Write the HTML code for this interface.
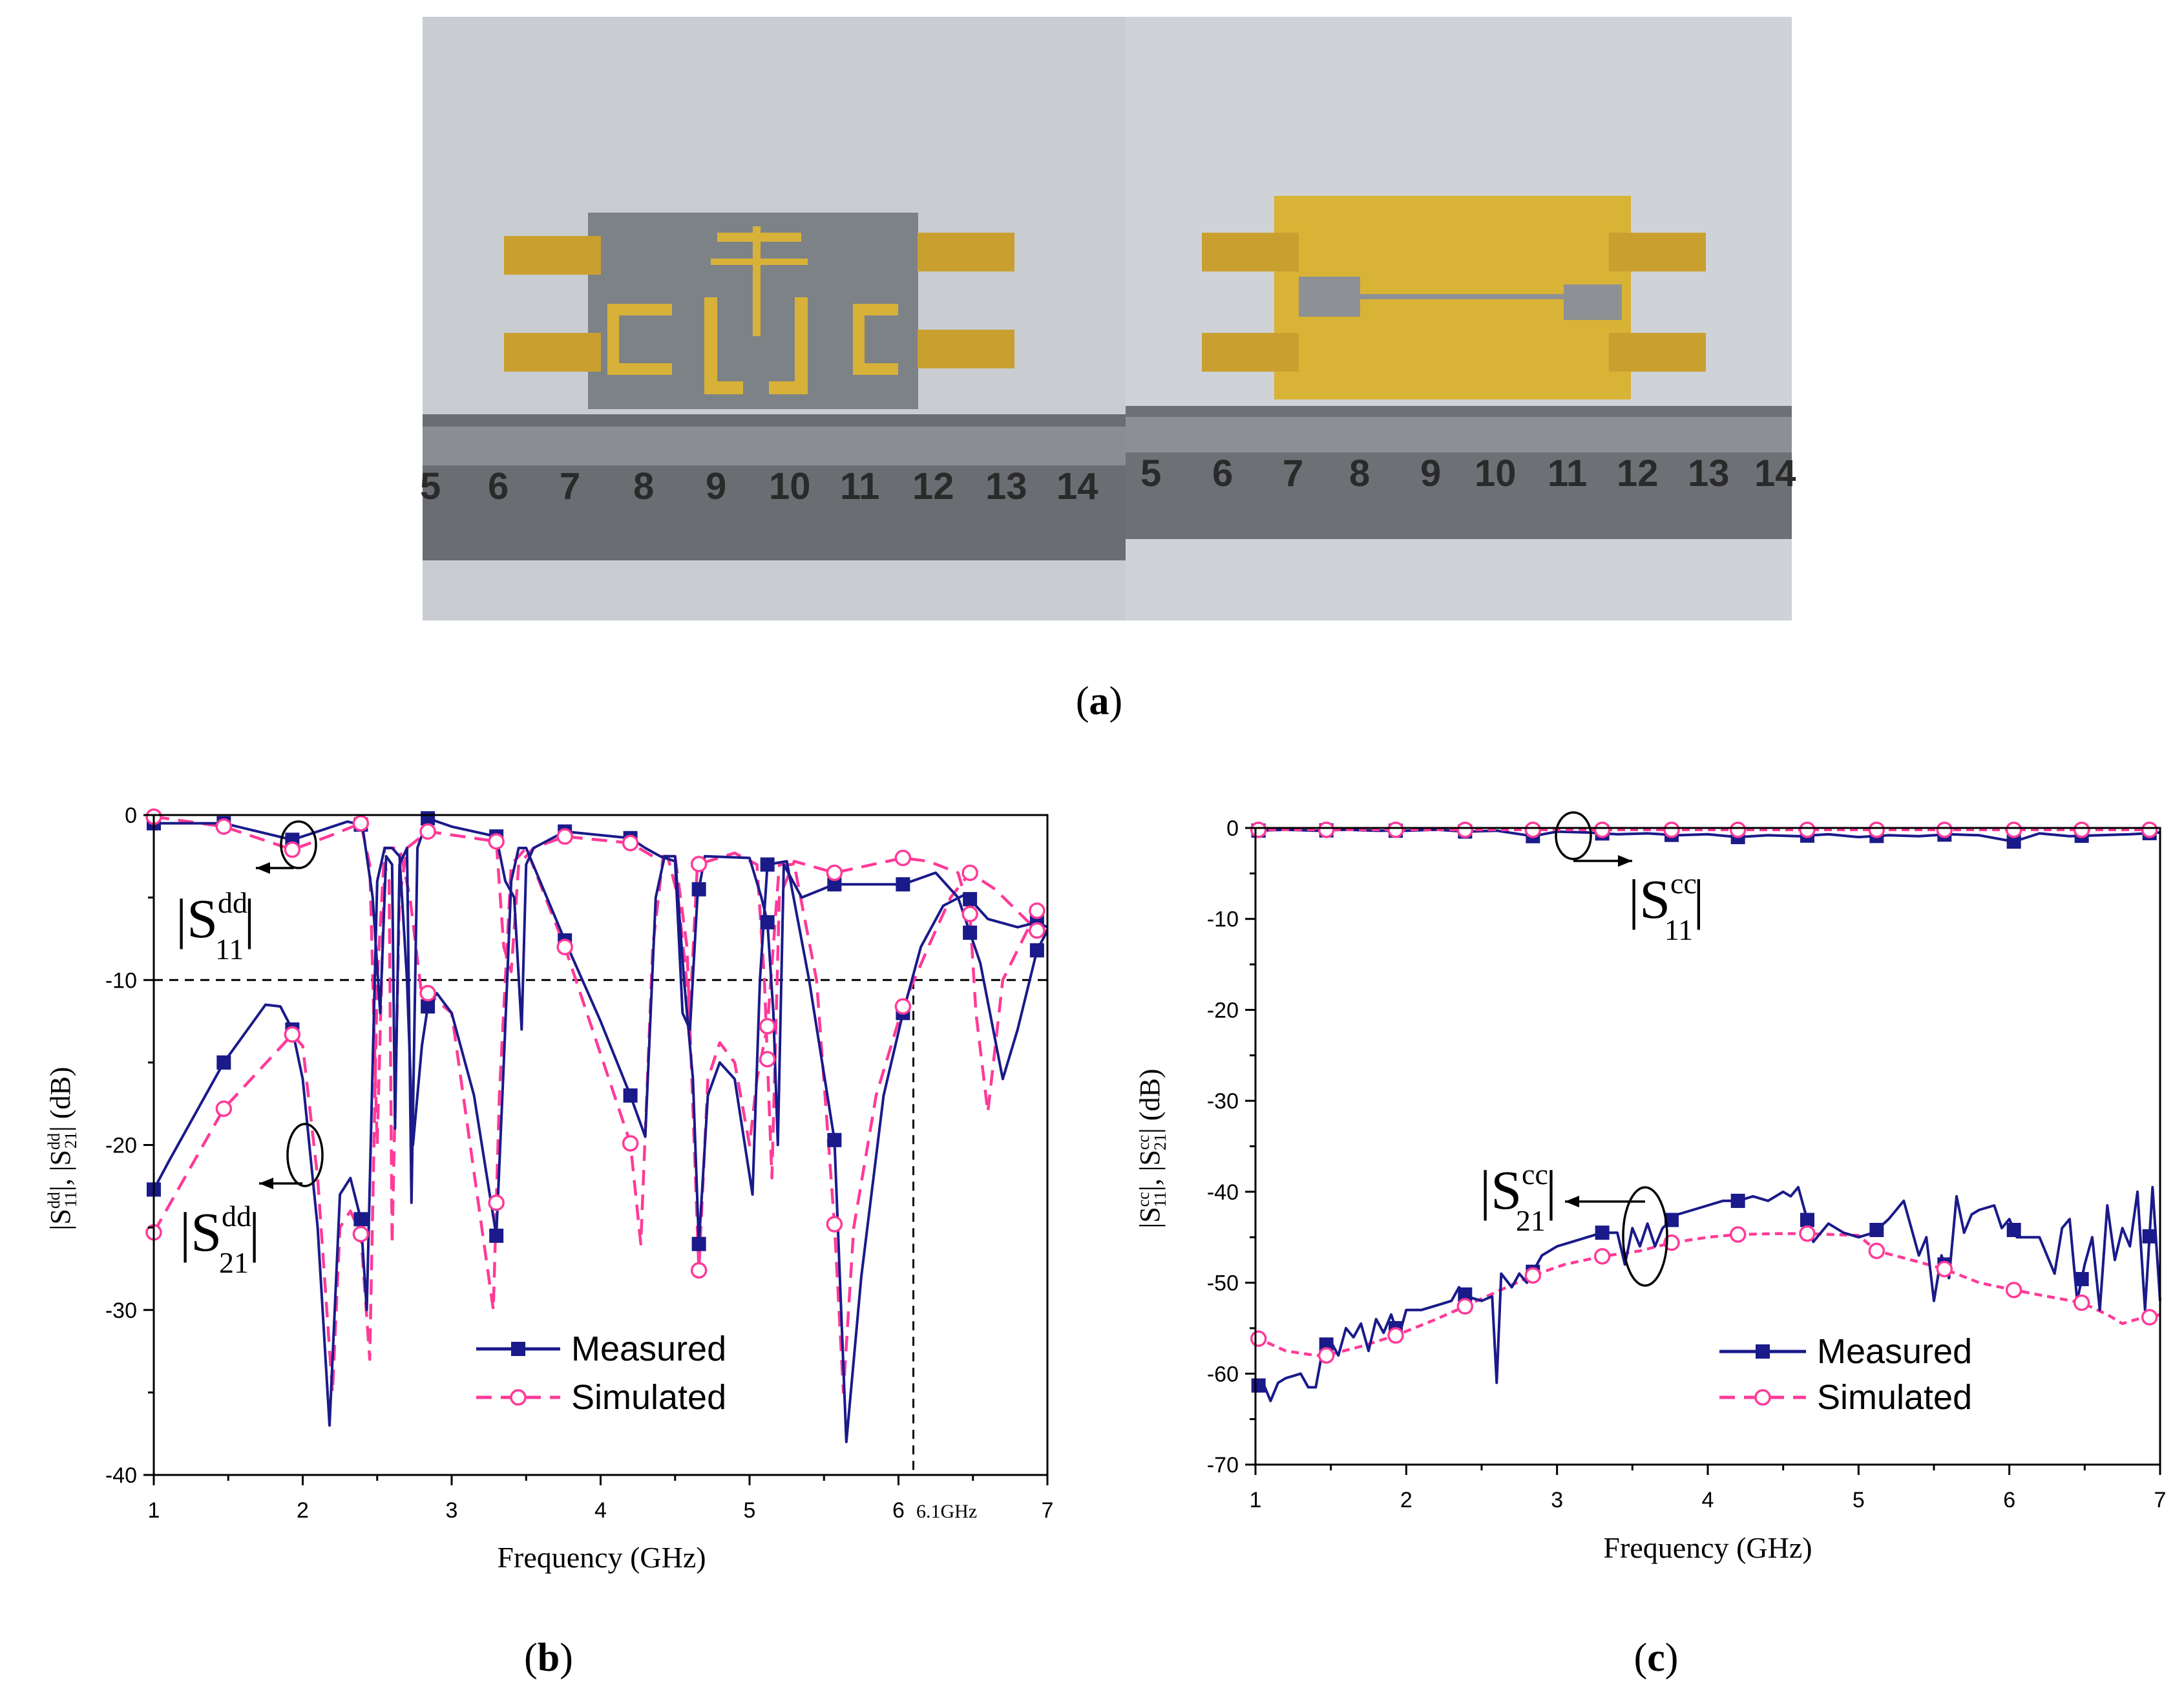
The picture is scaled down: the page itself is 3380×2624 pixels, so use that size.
<!DOCTYPE html>
<html><head><meta charset="utf-8">
<style>
html,body{margin:0;padding:0;background:#fff;}
svg{display:block;}
text{font-family:"Liberation Sans",sans-serif;}
.serif{font-family:"Liberation Serif",serif;}
</style></head>
<body>
<svg id="fig" width="3380" height="2624" viewBox="0 0 3380 2624" xmlns="http://www.w3.org/2000/svg">
<!-- (a) photo -->
<g>
  <rect x="654" y="26" width="1088" height="934" fill="#c9cdd2"/>
  <rect x="1742" y="26" width="1031" height="934" fill="#cfd2d6"/>
  <rect x="654" y="641" width="1088" height="226" fill="#6a6e72"/>
  <rect x="654" y="660" width="1088" height="60" fill="#8a8e92"/>
  <rect x="1742" y="628" width="1031" height="206" fill="#6d7175"/>
  <rect x="1742" y="645" width="1031" height="55" fill="#8c9094"/>
  <g font-family="Liberation Serif" font-size="58" fill="#2a2a2a" font-weight="bold">
    <text x="650" y="772">5</text><text x="755" y="772">6</text><text x="866" y="772">7</text><text x="980" y="772">8</text><text x="1092" y="772">9</text><text x="1190" y="772">10</text><text x="1300" y="772">11</text><text x="1412" y="772">12</text><text x="1525" y="772">13</text><text x="1635" y="772">14</text>
    <text x="1765" y="752">5</text><text x="1876" y="752">6</text><text x="1985" y="752">7</text><text x="2088" y="752">8</text><text x="2198" y="752">9</text><text x="2282" y="752">10</text><text x="2395" y="752">11</text><text x="2502" y="752">12</text><text x="2612" y="752">13</text><text x="2715" y="752">14</text>
  </g>
  <rect x="910" y="329" width="511" height="304" fill="#7d8286"/>
  <g fill="#d8b238">
    <rect x="1090" y="460" width="20" height="150"/><rect x="1090" y="590" width="60" height="20"/>
    <rect x="1230" y="460" width="20" height="150"/><rect x="1190" y="590" width="60" height="20"/>
    <rect x="940" y="470" width="100" height="18"/><rect x="940" y="470" width="18" height="110"/><rect x="940" y="562" width="100" height="18"/>
    <rect x="1320" y="470" width="70" height="18"/><rect x="1320" y="470" width="18" height="110"/><rect x="1320" y="562" width="70" height="18"/>
    <rect x="1110" y="360" width="130" height="14"/><rect x="1165" y="350" width="12" height="170"/>
    <rect x="1100" y="400" width="150" height="10"/>
  </g>
  <rect x="1972" y="303" width="552" height="315" fill="#d9b335"/>
  <rect x="2010" y="428" width="95" height="62" fill="#8d9094"/><rect x="2420" y="440" width="90" height="55" fill="#8d9094"/>
  <rect x="2100" y="455" width="330" height="8" fill="#8d9094"/>
  <g fill="#c9a030">
    <rect x="780" y="365" width="150" height="60"/><rect x="780" y="515" width="150" height="60"/>
    <rect x="1420" y="360" width="150" height="60"/><rect x="1420" y="510" width="150" height="60"/>
    <rect x="1860" y="360" width="150" height="60"/><rect x="1860" y="515" width="150" height="60"/>
    <rect x="2490" y="360" width="150" height="60"/><rect x="2490" y="515" width="150" height="60"/>
  </g>
  <text x="1701" y="1105" class="serif" font-size="62" text-anchor="middle">(<tspan font-weight="bold">a</tspan>)</text>
</g>
<g id="chartB"></g>
<g id="chartC"></g>
</svg>
<script>
// ---------- chart b data ----------
const bS11MeasF=[1,1.47,1.93,2.1,2.3,2.4,2.47,2.52,2.56,2.6,2.62,2.65,2.7,2.73,2.77,2.84,3.0,3.3,3.36,3.42,3.47,3.5,3.55,3.76,4.2,4.3,4.4,4.5,4.55,4.6,4.65,4.7,5.0,5.08,5.12,5.16,5.19,5.23,5.35,5.57,6.03,6.25,6.4,6.55,6.7,6.8,6.93,7];
const bS11MeasV=[-0.5,-0.5,-1.5,-1.0,-0.4,-0.6,-5,-12,-2.5,-3,-19,-3,-2,-23.5,-2,-0.2,-0.7,-1.3,-4,-5,-13,-3,-2,-1.0,-1.4,-2,-2.5,-2.8,-12,-13,-5,-2.5,-2.6,-5,-6.5,-12,-20,-3,-5,-4.2,-4.2,-3.5,-5,-9,-16,-13,-8.2,-7];
const bS21MeasF=[1,1.1,1.47,1.75,1.85,1.93,2.0,2.1,2.18,2.25,2.32,2.39,2.43,2.47,2.5,2.55,2.6,2.65,2.7,2.74,2.8,2.84,2.9,3.0,3.15,3.3,3.35,3.4,3.45,3.5,3.76,4.0,4.2,4.3,4.37,4.43,4.5,4.56,4.62,4.66,4.72,4.8,4.9,5.02,5.07,5.12,5.25,5.4,5.57,5.65,5.75,5.9,6.03,6.15,6.3,6.45,6.6,6.8,6.93,7];
const bS21MeasV=[-22.7,-21,-15,-11.5,-11.6,-13,-16,-25,-37,-23,-22,-24.5,-30,-15,-4,-2,-2,-2.5,-10,-20,-14,-11.6,-10.8,-12,-17,-25.5,-15,-4,-2,-2,-7.6,-12.5,-17,-19.5,-5,-2.5,-2.5,-10,-16,-26,-17,-15,-16,-23,-10,-3,-2.8,-10,-19.7,-38,-28,-17,-12,-8,-5.5,-4.8,-6.3,-6.8,-6.5,-6.8];
const bS11SimF=[1,1.47,1.93,2.2,2.39,2.45,2.5,2.55,2.58,2.6,2.65,2.7,2.84,3.3,3.35,3.4,3.45,3.55,3.76,4.2,4.35,4.45,4.52,4.6,4.65,4.9,5.05,5.1,5.15,5.2,5.3,5.57,6.03,6.2,6.4,6.48,6.52,6.6,6.7,6.93,7];
const bS11SimV=[-0.1,-0.7,-2.1,-1.2,-0.5,-3,-20,-3,-4,-26,-5,-2,-1.0,-1.6,-8,-9.5,-3,-2,-1.3,-1.7,-2.5,-2.5,-5,-12,-3,-2.3,-3,-10,-22,-5,-2.8,-3.5,-2.6,-2.8,-3.5,-6,-12,-18,-10,-5.8,-6];
const bS21SimF=[1,1.47,1.93,2.0,2.1,2.2,2.25,2.32,2.39,2.45,2.5,2.55,2.65,2.72,2.8,2.84,3.0,3.28,3.32,3.4,3.5,3.76,4.2,4.27,4.35,4.42,4.5,4.58,4.66,4.72,4.8,4.9,5.0,5.05,5.12,5.2,5.3,5.45,5.57,5.63,5.7,5.85,6.03,6.2,6.35,6.48,6.65,6.93,7];
const bS21SimV=[-25.3,-17.8,-13.3,-14,-22,-35,-25,-24,-25.4,-33,-10,-2,-2,-5,-11,-10.8,-12,-30,-17,-3,-2,-8,-19.9,-26,-8,-2.5,-2.5,-8,-27.6,-16,-13.8,-15,-20,-16,-12.8,-3,-3,-10,-24.8,-35,-25,-17,-11.6,-8,-5,-3.5,-4.5,-7,-7];
const bMarkerF=[1,1.47,1.93,2.39,2.84,3.3,3.76,4.2,4.66,5.12,5.57,6.03,6.48,6.93];
const bXTicks=[1,2,3,4,5,6,7];
const bYTicks=[0,-10,-20,-30,-40];
// ---------- chart c data ----------
const cS11MeasF=[1,1.2,1.4,1.6,1.8,2.0,2.2,2.4,2.6,2.84,3.0,3.2,3.4,3.6,3.8,4.0,4.2,4.4,4.6,4.8,5.0,5.2,5.4,5.6,5.8,6.03,6.2,6.4,6.6,6.8,7];
const cS11MeasV=[-0.3,-0.2,-0.3,-0.2,-0.3,-0.3,-0.2,-0.4,-0.3,-0.9,-0.4,-0.5,-0.7,-0.6,-0.8,-0.7,-1.0,-0.8,-0.9,-0.7,-1.0,-0.8,-0.9,-0.7,-0.8,-1.5,-0.6,-0.9,-0.8,-0.7,-0.5];
const cS11SimF=[1,2,3,4,5,6,7];
const cS11SimV=[-0.2,-0.2,-0.2,-0.2,-0.2,-0.2,-0.2];
const cS21MeasF=[1,1.05,1.1,1.15,1.2,1.3,1.35,1.4,1.45,1.5,1.55,1.6,1.65,1.7,1.75,1.8,1.85,1.9,1.95,2.0,2.1,2.2,2.3,2.35,2.4,2.5,2.57,2.6,2.63,2.7,2.75,2.8,2.9,3.0,3.1,3.2,3.3,3.4,3.45,3.5,3.55,3.6,3.65,3.7,3.8,3.9,4.0,4.1,4.2,4.3,4.4,4.5,4.55,4.6,4.7,4.8,4.9,5.0,5.1,5.2,5.3,5.35,5.4,5.45,5.5,5.55,5.6,5.65,5.7,5.75,5.8,5.9,5.95,6.0,6.05,6.1,6.2,6.3,6.35,6.4,6.45,6.5,6.55,6.6,6.65,6.7,6.75,6.8,6.85,6.9,6.95,7];
const cS21MeasV=[-61.5,-61,-63,-61,-60.5,-60,-61.5,-61.5,-57,-56.5,-58,-55,-56,-54.5,-57.5,-54,-55.5,-53.5,-56,-53,-53,-52.5,-52,-50.5,-51.5,-52,-51.5,-61,-49,-50.5,-49,-50,-47,-46,-45.5,-45,-44.5,-44.5,-48,-44,-46,-43.5,-46,-44,-42.5,-42,-41.5,-41,-41,-40.5,-41,-40,-40.5,-39.5,-45.5,-43.5,-44.5,-45,-44.5,-43,-41,-44,-47,-45,-52,-47,-49.5,-40.5,-44.5,-42.5,-42,-41.5,-44,-43,-45,-45,-45,-49,-44,-43,-52,-48,-45,-53,-41.5,-47.5,-44,-46,-40,-53,-39.5,-52];
const cS21SimF=[1,1.2,1.4,1.47,1.7,1.93,2.2,2.39,2.6,2.84,3.05,3.3,3.55,3.76,4.0,4.2,4.45,4.66,5.0,5.12,5.35,5.57,5.8,6.03,6.25,6.48,6.65,6.75,6.85,6.93,7];
const cS21SimV=[-56,-57.5,-58,-58,-57,-55.8,-54,-52.6,-51,-49.2,-48,-47.1,-46.5,-45.6,-45,-44.7,-44.6,-44.6,-44.8,-46.5,-47.5,-48.5,-50,-50.8,-51.5,-52.2,-53.5,-54.5,-54,-53.8,-53.5];
const cMarkerF=[1.02,1.47,1.93,2.39,2.84,3.3,3.76,4.2,4.66,5.12,5.57,6.03,6.48,6.93];
const cXTicks=[1,2,3,4,5,6,7];
const cYTicks=[0,-10,-20,-30,-40,-50,-60,-70];

const NS='http://www.w3.org/2000/svg';
const BLUE='#1a1a8a', PINK='#ff3a98';
function mk(parent,tag,attrs){const e=document.createElementNS(NS,tag);for(const k in attrs)e.setAttribute(k,attrs[k]);parent.appendChild(e);return e;}
function interp(F,V,f){if(f<=F[0])return V[0];for(let i=1;i<F.length;i++){if(f<=F[i]){const t=(f-F[i-1])/(F[i]-F[i-1]);return V[i-1]+t*(V[i]-V[i-1]);}}return V[V.length-1];}
function makeScales(L,R,T,B,ymin,ymax){return{x:f=>L+(f-1)/6*(R-L),y:v=>T+(ymax-v)/(ymax-ymin)*(B-T)};}

function series(g,sc,F,V,color,dash,name){
  const d=F.map((f,i)=>(i?'L':'M')+sc.x(f).toFixed(1)+','+sc.y(V[i]).toFixed(1)).join(' ');
  const p=mk(g,'path',{d:d,fill:'none',stroke:color,'stroke-width':dash?4.5:4,'stroke-dasharray':dash?dash:'none','stroke-linejoin':'round'});
  
  
}
function markers(g,sc,F,V,mf,type,name){
  mf.forEach(f=>{const x=sc.x(f),y=sc.y(interp(F,V,f));let m;
    if(type==='sq'){m=mk(g,'rect',{x:x-11,y:y-11,width:22,height:22,fill:BLUE});}
    else{m=mk(g,'circle',{cx:x,cy:y,r:11,fill:'#fff',stroke:PINK,'stroke-width':3.5});}
    
    
  });
}
function axes(g,L,R,T,B,sc,xt,yt,ymin,ymax){
  const fr=mk(g,'rect',{x:L,y:T,width:R-L,height:B-T,fill:'none',stroke:'#000','stroke-width':3});
  
  
  xt.forEach(v=>{const x=sc.x(v);mk(g,'line',{x1:x,y1:B,x2:x,y2:B+16,stroke:'#000','stroke-width':3});
    if(v<7)mk(g,'line',{x1:sc.x(v+0.5),y1:B,x2:sc.x(v+0.5),y2:B+9,stroke:'#000','stroke-width':3});
    const t=mk(g,'text',{x:x,y:B+66,'font-size':34,'text-anchor':'middle'});t.textContent=v;
    
    });
  yt.forEach(v=>{const y=sc.y(v);mk(g,'line',{x1:L-16,y1:y,x2:L,y2:y,stroke:'#000','stroke-width':3});
    if(v>ymin)mk(g,'line',{x1:L-9,y1:sc.y(v-5),x2:L,y2:sc.y(v-5),stroke:'#000','stroke-width':3});
    const t=mk(g,'text',{x:L-26,y:y+12,'font-size':34,'text-anchor':'end'});t.textContent=v;
    
    });
}
function slabel(g,x,y,sup,sub,name){
  const t=mk(g,'text',{x:x,y:y,'font-size':86,class:'serif'});
  
  
  t.innerHTML='|S<tspan font-size="46" dy="-38">'+sup+'</tspan><tspan font-size="46" dx="-50" dy="72">'+sub+'</tspan><tspan dy="-34">|</tspan>';
}
function ytitle(g,x,y,sup,name){
  const t=mk(g,'text',{transform:'translate('+x+','+y+') rotate(-90)','font-size':44,'text-anchor':'middle',class:'serif'});
  
  
  t.innerHTML='|S<tspan font-size="26" dy="-16">'+sup+'</tspan><tspan font-size="26" dx="-24" dy="26">11</tspan><tspan dy="-10">|, |S</tspan><tspan font-size="26" dy="-16">'+sup+'</tspan><tspan font-size="26" dx="-24" dy="26">21</tspan><tspan dy="-10">| (dB)</tspan>';
}
function legend(g,x1,x2,tx,y1,y2){
  const lm=mk(g,'line',{x1:x1,y1:y1,x2:x2,y2:y1,stroke:BLUE,'stroke-width':5});
  
  
  mk(g,'rect',{x:(x1+x2)/2-11,y:y1-11,width:22,height:22,fill:BLUE});
  const t1=mk(g,'text',{x:tx,y:y1+18,'font-size':54});t1.textContent='Measured';
  
  
  const ls=mk(g,'line',{x1:x1,y1:y2,x2:x2,y2:y2,stroke:PINK,'stroke-width':5,'stroke-dasharray':'24 14'});
  
  
  mk(g,'circle',{cx:(x1+x2)/2,cy:y2,r:11,fill:'#fff',stroke:PINK,'stroke-width':3.5});
  const t2=mk(g,'text',{x:tx,y:y2+18,'font-size':54});t2.textContent='Simulated';
  
  
}
function arrow(g,x1,y1,x2,y2){
  mk(g,'line',{x1:x1,y1:y1,x2:x2,y2:y2,stroke:'#000','stroke-width':3.5});
  const dir=Math.sign(x2-x1);
  mk(g,'polygon',{points:x2+','+y2+' '+(x2-dir*22)+','+(y2-9)+' '+(x2-dir*22)+','+(y2+9),fill:'#000'});
}

// ---------- chart b ----------
(function(){
  const g=document.getElementById('chartB');
  const L=238,R=1621,T=1261,B=2282;
  const sc=makeScales(L,R,T,B,-40,0);
  mk(g,'line',{x1:L,y1:sc.y(-10),x2:R,y2:sc.y(-10),stroke:'#000','stroke-width':3,'stroke-dasharray':'14 10'});
  mk(g,'line',{x1:sc.x(6.1),y1:sc.y(-10),x2:sc.x(6.1),y2:B,stroke:'#000','stroke-width':3,'stroke-dasharray':'14 10'});
  series(g,sc,bS11SimF,bS11SimV,PINK,'24 14','s11dd-simulated');
  series(g,sc,bS21SimF,bS21SimV,PINK,'24 14','s21dd-simulated');
  series(g,sc,bS11MeasF,bS11MeasV,BLUE,null,'s11dd-measured');
  series(g,sc,bS21MeasF,bS21MeasV,BLUE,null,'s21dd-measured');
  markers(g,sc,bS11MeasF,bS11MeasV,bMarkerF,'sq','s11dd-measured-marker');
  markers(g,sc,bS21MeasF,bS21MeasV,bMarkerF,'sq','s21dd-measured-marker');
  markers(g,sc,bS11SimF,bS11SimV,bMarkerF,'ci','s11dd-simulated-marker');
  markers(g,sc,bS21SimF,bS21SimV,bMarkerF,'ci','s21dd-simulated-marker');
  axes(g,L,R,T,B,sc,bXTicks,bYTicks,-40,0);
  const t61=mk(g,'text',{x:1418,y:2348,'font-size':30,class:'serif'});t61.textContent='6.1GHz';
  
  
  const xt=mk(g,'text',{x:931,y:2425,'font-size':46,'text-anchor':'middle',class:'serif'});xt.textContent='Frequency (GHz)';
  
  
  ytitle(g,108,1777,'dd','y-axis-title');
  mk(g,'ellipse',{cx:462,cy:1307,rx:27,ry:36,fill:'none',stroke:'#000','stroke-width':3.5});
  arrow(g,455,1343,396,1343);
  slabel(g,272,1450,'dd','11','s11dd-label');
  mk(g,'ellipse',{cx:472,cy:1787,rx:27,ry:48,fill:'none',stroke:'#000','stroke-width':3.5});
  arrow(g,468,1831,401,1831);
  slabel(g,278,1935,'dd','21','s21dd-label');
  legend(g,737,867,884,2087,2162);
  const lb=mk(g,'text',{x:849,y:2585,'font-size':62,'text-anchor':'middle',class:'serif'});
  lb.innerHTML='(<tspan font-weight="bold">b</tspan>)';
  
  
})();

// ---------- chart c ----------
(function(){
  const g=document.getElementById('chartC');
  const L=1943,R=3343,T=1281,B=2266;
  const sc=makeScales(L,R,T,B,-70,0);
  series(g,sc,cS21SimF,cS21SimV,PINK,'12 8','s21cc-simulated');
  series(g,sc,cS21MeasF,cS21MeasV,BLUE,null,'s21cc-measured');
  series(g,sc,cS11MeasF,cS11MeasV,BLUE,null,'s11cc-measured');
  series(g,sc,cS11SimF,cS11SimV,PINK,'12 8','s11cc-simulated');
  markers(g,sc,cS11MeasF,cS11MeasV,cMarkerF,'sq','s11cc-measured-marker');
  markers(g,sc,cS11SimF,cS11SimV,cMarkerF,'ci','s11cc-simulated-marker');
  markers(g,sc,cS21MeasF,cS21MeasV,cMarkerF,'sq','s21cc-measured-marker');
  markers(g,sc,cS21SimF,cS21SimV,cMarkerF,'ci','s21cc-simulated-marker');
  axes(g,L,R,T,B,sc,cXTicks,cYTicks,-70,0);
  const xt=mk(g,'text',{x:2643,y:2410,'font-size':46,'text-anchor':'middle',class:'serif'});xt.textContent='Frequency (GHz)';
  
  
  ytitle(g,1794,1777,'cc','y-axis-title');
  mk(g,'ellipse',{cx:2435,cy:1293,rx:27,ry:36,fill:'none',stroke:'#000','stroke-width':3.5});
  arrow(g,2435,1332,2526,1332);
  slabel(g,2520,1420,'cc','11','s11cc-label');
  mk(g,'ellipse',{cx:2546,cy:1913,rx:34,ry:76,fill:'none',stroke:'#000','stroke-width':3.5});
  arrow(g,2546,1859,2422,1859);
  slabel(g,2290,1870,'cc','21','s21cc-label');
  legend(g,2661,2795,2812,2091,2162);
  const lb=mk(g,'text',{x:2563,y:2585,'font-size':62,'text-anchor':'middle',class:'serif'});
  lb.innerHTML='(<tspan font-weight="bold">c</tspan>)';
  
  
})();
</script>
</body></html>
